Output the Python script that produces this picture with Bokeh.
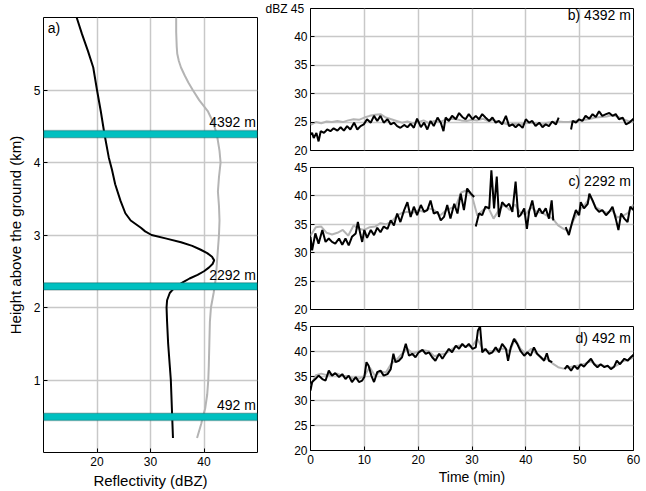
from bokeh.plotting import figure
from bokeh.layouts import row, column
from bokeh.models import FixedTicker, Label, BoxAnnotation, Range1d
from bokeh.embed import file_html
from bokeh.resources import INLINE

FONT = "Liberation Sans"
nan = float("nan")

# ---------------- panel a: vertical profiles ----------------
prof_black_h = [6.0, 5.77, 5.54, 5.31, 5.0, 4.71, 4.39, 4.07, 3.9, 3.7, 3.47, 3.3, 3.2, 3.1, 3.05,
                3.0, 2.95, 2.9, 2.85, 2.8, 2.75, 2.7, 2.65, 2.6, 2.55, 2.5, 2.45, 2.4, 2.35, 2.3,
                2.25, 2.2, 2.1, 2.0, 1.8, 1.5, 1.2, 1.0, 0.8, 0.6, 0.4, 0.2]
prof_black_z = [16.2, 17.2, 18.3, 19.3, 20.0, 20.7, 21.4, 22.2, 22.8, 23.4, 24.4, 25.3, 26.3, 28.2, 29.0,
                30.2, 33.0, 35.7, 37.8, 39.3, 40.6, 41.5, 41.9, 41.6, 40.9, 40.0, 38.8, 37.3, 36.1, 35.0,
                34.2, 33.6, 33.1, 33.0, 33.1, 33.3, 33.6, 33.8, 33.9, 34.0, 34.1, 34.2]
prof_gray_h = [6.0, 5.8, 5.6, 5.5, 5.4, 5.31, 5.2, 5.1, 5.0, 4.86, 4.71, 4.57, 4.39, 4.16, 4.0, 3.8,
               3.6, 3.4, 3.2, 3.0, 2.8, 2.6, 2.4, 2.2, 2.0, 1.8, 1.5, 1.2, 1.0, 0.8, 0.6, 0.5, 0.4,
               0.3, 0.2]
prof_gray_z = [34.8, 34.8, 34.9, 35.0, 35.3, 35.7, 36.4, 37.1, 37.9, 39.1, 40.7, 41.6, 42.4, 42.9, 43.1, 42.8,
               42.6, 42.8, 42.9, 42.8, 42.6, 42.4, 42.2, 41.8, 41.3, 41.1, 41.0, 40.9, 40.8, 40.6, 40.2, 39.8, 39.5,
               39.1, 38.7]
band_heights_km = [4.392, 2.292, 0.492]
band_labels = ["4392 m", "2292 m", "492 m"]

# ---------------- panel b: 4392 m ----------------
t_b = [0, 0.3, 0.6, 1.1, 1.5, 1.9, 2.5, 3.1, 3.7, 4.3, 5.0, 5.6, 6.2, 6.8, 7.4, 8.1, 8.7, 9.3, 9.9,
       10.5, 11.2, 11.8, 12.4, 13.0, 13.6, 14.3, 14.9, 15.5, 16.1, 16.7, 17.4, 18.0, 18.6, 19.2, 19.8,
       20.5, 21.1, 21.7, 22.3, 22.9, 23.6, 24.2, 24.7, 25.1, 25.7, 26.3, 27.0, 27.6, 28.2, 28.8, 29.4,
       30.1, 30.7, 31.3, 31.9, 32.5, 33.2, 33.8, 34.4, 35.0, 35.6, 36.3, 36.9, 37.5, 38.1, 38.7, 39.4,
       40.0, 40.6, 41.2, 41.8, 42.5, 43.1, 43.7, 44.3, 44.9, 45.6, 46.1, 46.2,
       48.4, 48.7, 49.3, 49.9, 50.5, 51.1, 51.8, 52.4, 53.0, 53.6, 54.2, 54.9, 55.5, 56.1, 56.7, 57.3,
       58.0, 58.6, 59.2, 60.0]
z_b = [22.8, 23.1, 22.2, 23.1, 21.6, 23.4, 23.1, 23.7, 23.4, 23.9, 23.5, 24.1, 23.5, 24.3, 23.7, 24.9, 23.7, 24.3, 24.6,
       25.5, 24.9, 26.1, 25.2, 26.1, 24.9, 25.5, 24.6, 24.9, 24.3, 24.0, 24.5, 24.1, 24.7, 24.0, 25.6,
       24.1, 24.9, 23.7, 25.2, 24.3, 25.8, 24.9, 23.4, 25.8, 25.2, 26.1, 25.5, 26.6, 25.9, 25.5, 26.4,
       25.5, 26.1, 25.5, 26.4, 25.8, 25.2, 25.8, 24.9, 25.2, 24.6, 26.1, 24.3, 24.6, 24.1, 24.6, 24.0,
       25.5, 24.9, 25.2, 24.3, 24.9, 24.1, 24.6, 24.3, 25.1, 24.6, 25.8, nan,
       23.7, 25.2, 24.9, 25.5, 25.2, 26.1, 25.6, 26.4, 25.9, 26.9, 26.1, 26.4, 26.6, 26.1, 26.4, 25.5,
       25.8, 24.6, 24.9, 25.6]
g_b = [24.5, 25.0, 24.8, 25.1, 25.0, 25.2, 25.0, 25.3, 25.5, 25.4, 25.8, 26.1, 26.3, 26.4, 25.8, 25.5,
       25.2, 24.9, 25.1, 24.8, 25.0, 25.3, 24.8, 25.2, 25.0, 25.4, 25.6, 25.5, 25.3, 25.2, 25.4, 25.3,
       25.6, 25.2, 25.4, 25.0, 24.8, 24.5, 24.7, 24.6, 24.8, 24.9, 24.8, 24.6, 24.9, 25.0, 25.1, 25.0,
       25.0, 25.2, 25.3, 25.4, 25.6, 25.8, 25.9, 26.0, 26.2, 26.0, 25.5, 25.2, 25.0]

# ---------------- panel c: 2292 m ----------------
t_c = [0, 0.3, 0.9, 1.5, 2.2, 2.8, 3.4, 4.0, 4.6, 5.3, 5.9, 6.5, 7.1, 7.7, 8.4, 8.8, 9.3, 9.6, 10.0,
       10.5, 11.2, 11.8, 12.4, 13.0, 13.6, 14.3, 14.9, 15.5, 16.1, 16.7, 17.4, 18.0, 18.6, 19.2, 19.8,
       20.5, 21.1, 21.7, 22.3, 22.9, 23.6, 24.2, 24.8, 25.4, 26.0, 26.7, 27.3, 27.9, 28.5, 29.1, 29.8,
       30.4, 30.5, 30.7, 31.3, 31.9, 32.5, 33.2, 33.6, 34.1, 34.6, 35.0, 35.6, 36.3, 36.9, 37.5, 38.1,
       38.6, 39.0, 39.7, 40.2, 40.6, 41.2, 41.8, 42.5, 43.1, 43.7, 44.3, 44.8, 45.1, 45.3,
       47.4, 48.0, 48.7, 49.3, 49.9, 50.2, 50.8, 51.5, 51.8, 52.4, 53.0, 53.6, 54.2, 54.9, 55.5, 56.1,
       56.7, 57.2, 57.7, 58.3, 58.9, 59.4, 60.0]
z_c = [32.8, 30.4, 33.4, 31.6, 34.0, 31.9, 32.5, 31.9, 31.6, 32.5, 31.4, 32.5, 31.3, 32.8, 33.4, 35.4, 33.1, 31.9, 34.0,
       32.6, 34.0, 33.1, 34.4, 33.6, 34.6, 34.2, 35.7, 34.8, 36.9, 35.4, 37.5, 38.9, 36.3, 38.1, 36.6,
       38.4, 37.2, 37.5, 39.2, 36.9, 37.2, 35.7, 36.3, 38.4, 36.0, 38.6, 36.9, 40.4, 37.5, 41.3, 40.4,
       39.8, nan, 34.6, 36.9, 36.6, 38.1, 37.8, 44.5, 37.8, 43.4, 36.3, 38.9, 38.1, 38.6, 37.2, 42.5,
       36.3, 36.6, 37.8, 34.2, 37.2, 39.2, 36.3, 37.8, 36.9, 37.8, 36.0, 39.2, 35.7, nan,
       34.5, 33.1, 35.7, 37.5, 36.6, 38.9, 37.8, 38.6, 40.4, 39.2, 37.8, 37.2, 37.5, 36.6, 37.2, 38.1,
       36.0, 34.0, 36.9, 36.0, 35.4, 38.1, 37.5]
g_c = [33.0, 34.5, 34.6, 33.5, 33.2, 33.5, 34.0, 33.0, 34.8, 34.2, 34.0, 34.5, 34.6, 35.2, 35.0, 35.4,
       36.5, 37.0, 37.2, 37.0, 37.5, 37.2, 37.8, 37.5, 36.5, 37.3, 37.8, 38.2, 40.6, 41.0, 40.0, 36.5,
       37.5, 38.0, 36.0, 37.5, 38.5, 37.5, 38.5, 37.0, 36.8, 38.0, 37.2, 37.0, 36.5, 36.0, 34.8, 34.2,
       33.8, 36.0, 37.5, 38.5, 39.8, 38.0, 37.5, 37.0, 37.5, 36.2, 36.5, 37.0, 38.5]

# ---------------- panel d: 492 m ----------------
t_d = [0, 0.3, 0.9, 1.5, 2.2, 2.8, 3.4, 4.0, 4.6, 5.3, 5.9, 6.5, 7.1, 7.7, 8.4, 9.0, 9.6, 10.0, 10.4,
       10.8, 11.3, 11.8, 12.4, 13.0, 13.6, 14.3, 14.9, 15.4, 15.8, 16.4, 17.0, 17.7, 18.3, 18.9, 19.5,
       20.1, 20.8, 21.4, 22.0, 22.6, 23.2, 23.9, 24.5, 25.1, 25.7, 26.3, 27.0, 27.6, 28.2, 28.8, 29.4,
       30.1, 30.7, 31.1, 31.5, 31.9, 32.5, 33.2, 33.8, 34.4, 35.0, 35.6, 36.3, 36.7, 37.2, 37.8, 38.4,
       39.0, 39.7, 40.3, 40.9, 41.5, 42.1, 42.8, 43.4, 43.9, 44.3, 44.9, 45.2,
       47.2, 47.7, 48.4, 49.0, 49.6, 50.2, 50.8, 51.5, 52.1, 52.7, 53.3, 53.9, 54.6, 55.2, 55.8, 56.4,
       56.9, 57.5, 58.3, 58.9, 59.5, 60.0]
z_d = [32.1, 33.8, 34.4, 35.1, 34.4, 34.1, 36.1, 35.1, 35.6, 34.8, 35.4, 34.4, 35.1, 33.8, 34.8, 33.8, 34.1, 34.8, 37.8,
       37.1, 35.1, 33.8, 35.8, 36.1, 35.1, 35.4, 36.4, 39.5, 37.8, 38.1, 38.8, 41.5, 39.1, 39.5, 38.8,
       39.8, 40.3, 39.5, 39.8, 38.8, 38.1, 39.5, 38.5, 39.5, 40.5, 39.8, 41.1, 40.5, 41.5, 40.8, 41.5,
       40.5, 40.8, 44.2, 45.0, 39.8, 40.5, 39.5, 39.8, 40.8, 39.8, 41.5, 40.5, 38.1, 40.8, 42.5, 41.5,
       40.1, 39.1, 39.8, 39.1, 40.8, 39.5, 38.8, 38.1, 39.6, 38.1, 37.8, nan,
       36.4, 37.1, 36.1, 37.1, 36.4, 37.4, 36.9, 37.8, 38.5, 37.4, 36.8, 37.4, 36.8, 37.1, 36.4, 36.9,
       38.1, 37.4, 38.5, 38.1, 38.8, 39.3]
g_d = [33.0, 35.2, 35.5, 35.2, 35.3, 35.5, 35.0, 35.0, 34.5, 34.5, 35.0, 36.8, 35.0, 36.0, 35.7, 37.5,
       38.3, 39.5, 40.5, 39.5, 40.0, 40.2, 40.0, 39.0, 39.3, 39.5, 40.2, 41.0, 41.2, 41.0, 41.0, 42.5,
       40.5, 40.0, 40.0, 40.5, 40.5, 40.0, 42.5, 40.5, 39.5, 40.5, 39.5, 38.5, 38.5, 37.5, 36.8, 36.5,
       36.8, 37.0, 37.2, 37.5, 38.0, 37.3, 37.2, 37.0, 36.7, 37.2, 38.0, 38.3, 38.8]
t_gray = list(range(61))

time_ticks = [0, 10, 20, 30, 40, 50, 60]
dbz_ticks = [20, 25, 30, 35, 40, 45]
refl_ticks = [20, 30, 40]
height_ticks = [1, 2, 3, 4, 5]
panels = [("b) 4392 m", t_b, z_b, g_b), ("c) 2292 m", t_c, z_c, g_c), ("d) 492 m", t_d, z_d, g_d)]
unit_label = "dBZ"

GRID = "#c8c8c8"
GRAY = "#b4b4b4"


def style(p, xt, yt):
    p.outline_line_color = "black"
    p.outline_line_width = 1
    p.xaxis.ticker = FixedTicker(ticks=xt)
    p.yaxis.ticker = FixedTicker(ticks=yt)
    for ax in p.axis:
        ax.axis_line_color = None
        ax.major_tick_in = 4
        ax.major_tick_out = 0
        ax.major_tick_line_color = "black"
        ax.minor_tick_line_color = None
        ax.major_label_text_font = FONT
        ax.major_label_text_font_size = "12px"
        ax.major_label_text_color = "black"
        ax.major_label_standoff = 4
        ax.axis_label_text_font = FONT
        ax.axis_label_text_font_style = "normal"
        ax.axis_label_text_color = "black"
        ax.axis_label_standoff = 3
    p.grid.grid_line_color = GRID
    p.grid.grid_line_width = 1.5
    p.background_fill_color = "white"
    p.border_fill_color = "white"


# ---------- left panel ----------
pa = figure(width=262, height=491, x_range=Range1d(10, 50), y_range=Range1d(0, 6),
            output_backend="svg", toolbar_location=None,
            min_border_left=43, min_border_right=5, min_border_top=17, min_border_bottom=39)
style(pa, refl_ticks, height_ticks)
pa.xaxis.axis_label = "Reflectivity (dBZ)"
pa.yaxis.axis_label = "Height above the ground (km)"
pa.xaxis.axis_label_text_font_size = "15px"
pa.yaxis.axis_label_text_font_size = "15px"
pa.yaxis.major_label_standoff = 3
pa.yaxis.axis_label_standoff = 7
pa.line(prof_gray_z, prof_gray_h, line_color=GRAY, line_width=2)
pa.line(prof_black_z, prof_black_h, line_color="black", line_width=2)
half = 0.05
for h, lab in zip(band_heights_km, band_labels):
    pa.add_layout(BoxAnnotation(bottom=h - half, top=h + half, fill_color="#00c0c0", fill_alpha=1,
                                line_color="#1f4a4a", line_width=1.5))
    pa.add_layout(Label(x=pa.x_range.end - 0.3, y=h + half, text=lab, text_align="right",
                        text_baseline="bottom", text_font=FONT, text_font_size="14px",
                        text_color="black"))
pa.add_layout(Label(x=pa.x_range.start + 0.8, y=5.86, text="a)", text_align="left",
                    text_baseline="middle", text_font=FONT, text_font_size="14px", text_color="black"))

# ---------- right panels ----------
heights = [158, 159, 174]
tops = [8, 9, 9]
bottoms = [8, 8, 41]
label_y = [43.8, 42.7, 42.6]
figs = []
for i, (lab, tt, zz, gg) in enumerate(panels):
    p = figure(width=384, height=heights[i], x_range=Range1d(0, 60), y_range=Range1d(20, 45),
               output_backend="svg", toolbar_location=None,
               min_border_left=48, min_border_right=13, min_border_top=tops[i],
               min_border_bottom=bottoms[i])
    style(p, time_ticks, dbz_ticks)
    p.yaxis.major_label_standoff = 3
    if i < 2:
        p.xaxis.visible = False
    else:
        p.xaxis.axis_label = "Time (min)"
        p.xaxis.axis_label_text_font_size = "14px"
        p.xaxis.axis_label_standoff = 2
    if i == 0:
        top_tick = dbz_ticks[-1]
        p.yaxis.major_label_overrides = {top_tick: unit_label + "  " + str(top_tick)}
    p.line(t_gray, gg, line_color=GRAY, line_width=2)
    p.line(tt, zz, line_color="black", line_width=2)
    p.add_layout(Label(x=59.5, y=label_y[i], text=lab, text_align="right", text_baseline="middle",
                       text_font=FONT, text_font_size="14px", text_color="black"))
    figs.append(p)

layout = row(pa, column(*figs))
open("out.html", "w").write(file_html(layout, INLINE))
